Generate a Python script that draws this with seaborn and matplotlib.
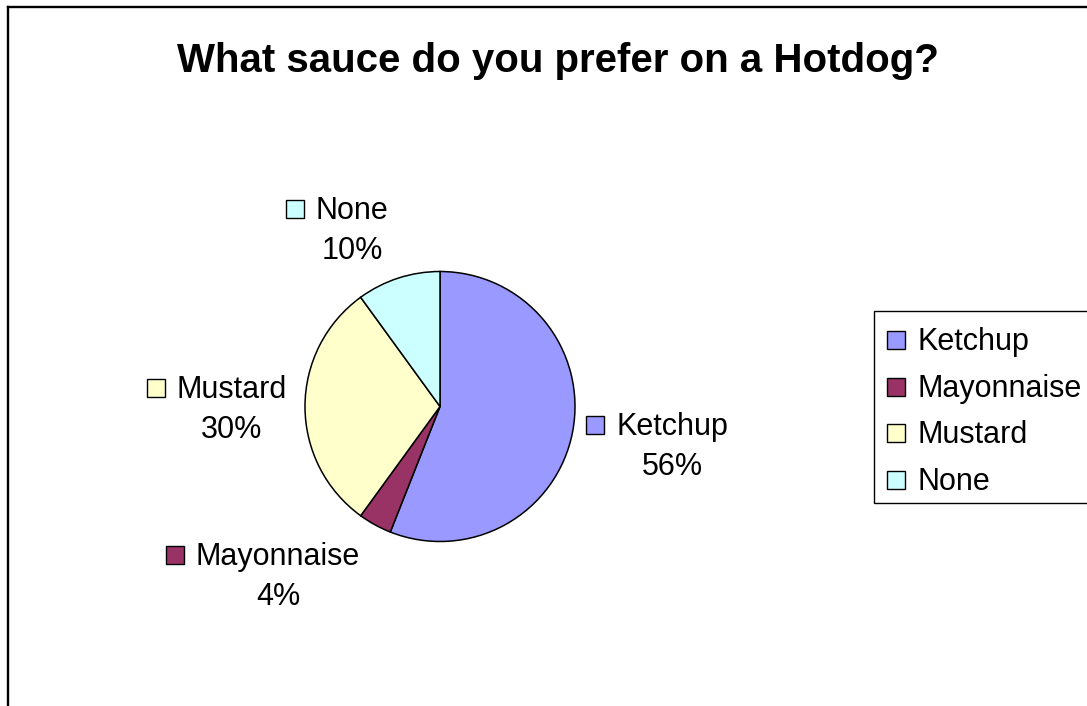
import matplotlib
matplotlib.use("Agg")
import matplotlib.pyplot as plt
from matplotlib.patches import Rectangle
import seaborn as sns

# ---- data ----
categories = ["Ketchup", "Mayonnaise", "Mustard", "None"]
shares = [56, 4, 30, 10]
colors = ["#9999FF", "#993366", "#FFFFCC", "#CCFFFF"]
title = "What sauce do you prefer on a Hotdog?"

sns.set_theme(style="white")
plt.rcParams["font.family"] = ["Liberation Sans", "DejaVu Sans"]

W, H = 1087, 706
fig = plt.figure(figsize=(W / 100, H / 100), dpi=100)
fig.patch.set_facecolor("white")
ax = fig.add_axes([0, 0, 1, 1])

def fy(y):
    return H - y

# pie (pixel-based coordinates)
cx, cy, r = 440, 406.5, 135
ax.pie(shares, colors=colors, startangle=90, counterclock=False,
       center=(cx, fy(cy)), radius=r,
       wedgeprops=dict(edgecolor="black", linewidth=1.1))
ax.set_xlim(0, W)
ax.set_ylim(0, H)
ax.set_aspect("auto")
ax.axis("off")

# chart border
ax.plot([8, 8], [fy(720), fy(7)], color="black", lw=1.7, solid_capstyle="projecting", clip_on=False)
ax.plot([8, W + 5], [fy(7), fy(7)], color="black", lw=1.7, solid_capstyle="projecting", clip_on=False)

# title
ax.text(558, fy(72), title, ha="center", va="baseline",
        fontsize=29, fontweight="bold", color="black")

FS = 22
SQ = 18
# data labels: (center x of name, baseline y of name)
label_pos = [(672, 435), (278, 565), (232, 398), (352, 219)]
fig.canvas.draw()
for cat, val, col, (lx, ly) in zip(categories, shares, colors, label_pos):
    t = ax.text(lx, fy(ly), cat, ha="center", va="baseline", fontsize=FS, color="black")
    bb = t.get_window_extent(renderer=fig.canvas.get_renderer())
    left = bb.x0
    ax.add_patch(Rectangle((left - 12 - SQ, fy(ly - 1)), SQ, SQ, facecolor=col,
                           edgecolor="black", lw=1.0))
    ax.text(lx, fy(ly + 40), f"{val}%", ha="center", va="baseline", fontsize=FS, color="black")

# legend
ax.add_patch(Rectangle((874, fy(503)), 260, 192, facecolor="white", edgecolor="black",
                       lw=1.0, clip_on=False))
for i, (cat, col) in enumerate(zip(categories, colors)):
    base = 350 + i * 46.5
    ax.add_patch(Rectangle((887, fy(base - 1)), SQ, SQ, facecolor=col, edgecolor="black", lw=1.0))
    ax.text(917, fy(base), cat, ha="left", va="baseline", fontsize=FS, color="black")

fig.savefig("out.png", dpi=100, facecolor="white")
